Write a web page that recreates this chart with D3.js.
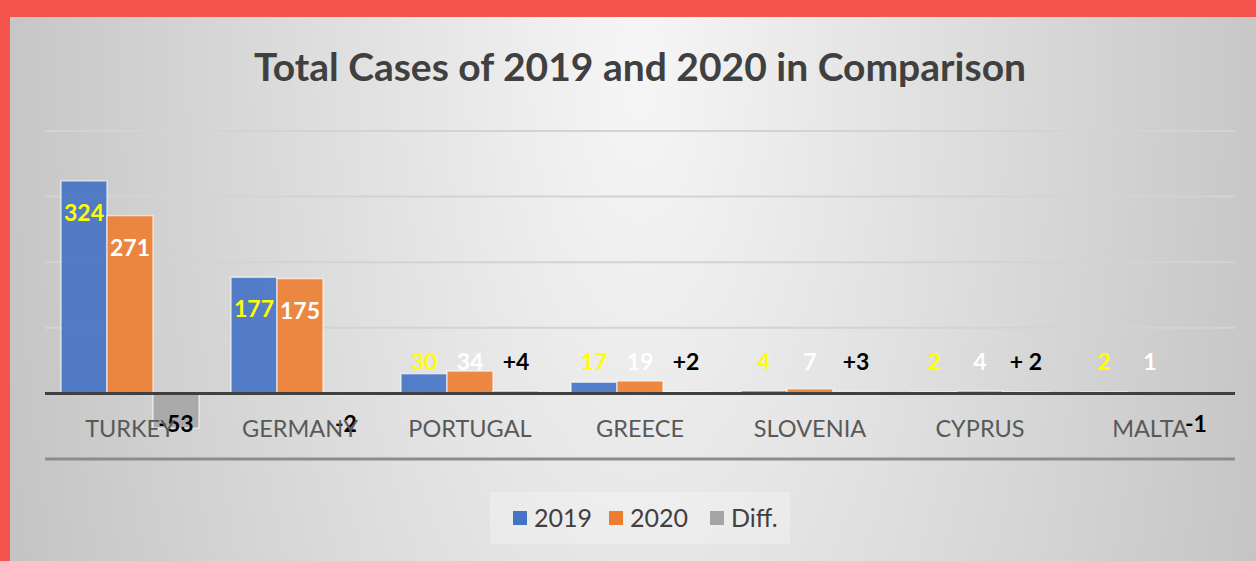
<!DOCTYPE html>
<html>
<head>
<meta charset="utf-8">
<script src="https://cdn.jsdelivr.net/npm/d3@7"></script>
<style>
  body { margin: 0; background: #f4544c; }
  svg { display: block; }
  text { font-family: Lato, "Open Sans", sans-serif; }
</style>
</head>
<body>
<div id="chart"></div>
<script>
var countries = ["TURKEY","GERMANY","PORTUGAL","GREECE","SLOVENIA","CYPRUS","MALTA"]
var cases2019 = [324,177,30,17,4,2,2]
var cases2020 = [271,175,34,19,7,4,1]
var diff = [-53,-2,4,2,3,2,-1]
var diffLabels = ["-53","-2","+4","+2","+3","+ 2","-1"]
var seriesNames = ["2019","2020","Diff."]
var yTicks = [-100,0,100,200,300,400]

var colors = {"2019":"#4472c4","2020":"#ed7d31","Diff.":"#a5a5a5"}
var labelColors = {"2019":"#ffff00","2020":"#ffffff","Diff.":"#000000"}

var W = 1256, H = 561
var svg = d3.select("#chart").append("svg").attr("width",W).attr("height",H)

var defs = svg.append("defs")
var grad = defs.append("radialGradient").attr("id","bg")
    .attr("gradientUnits","userSpaceOnUse")
    .attr("cx",640).attr("cy",60).attr("r",660)
    .attr("gradientTransform","translate(640,60) scale(1,2.4) translate(-640,-60)")
grad.append("stop").attr("offset","0%").attr("stop-color","#f6f6f6")
grad.append("stop").attr("offset","100%").attr("stop-color","#c4c4c4")

// red frame, then the panel
svg.append("rect").attr("width",W).attr("height",H).attr("fill","#f4544c")
svg.append("rect").attr("x",10).attr("y",17).attr("width",W-10).attr("height",H-17).attr("fill","url(#bg)")

svg.append("text").text("Total Cases of 2019 and 2020 in Comparison")
    .attr("x",640).attr("y",81).attr("text-anchor","middle")
    .attr("font-size",39).attr("font-weight","bold").attr("fill","#404040")

var x = d3.scaleBand().domain(countries).range([45,1235])
var xs = d3.scaleBand().domain(seriesNames).range([0,x.bandwidth()]).paddingOuter(16/46)
var y = d3.scaleLinear().domain([-100,400]).range([459,131])

// gridlines
svg.selectAll("line.grid").data(yTicks.filter(function(d){return d>0})).enter().append("line")
    .attr("class","grid")
    .attr("x1",45).attr("x2",1235)
    .attr("y1",function(d){return y(d)}).attr("y2",function(d){return y(d)})
    .attr("stroke","#d3d3d3").attr("stroke-width",2)
svg.append("line").attr("x1",45).attr("x2",1235).attr("y1",y(-100)).attr("y2",y(-100))
    .attr("stroke","#8c8c8c").attr("stroke-width",3)

var rows = countries.map(function(c,i){
    return {country:c, values:[
        {key:"2019", v:cases2019[i], label:String(cases2019[i])},
        {key:"2020", v:cases2020[i], label:String(cases2020[i])},
        {key:"Diff.", v:diff[i], label:diffLabels[i]}
    ]}
})

var groups = svg.selectAll("g.cat").data(rows).enter().append("g")
    .attr("transform",function(d){return "translate("+x(d.country)+",0)"})

groups.selectAll("rect").data(function(d){return d.values}).enter().append("rect")
    .attr("x",function(d){return xs(d.key)})
    .attr("width",xs.bandwidth())
    .attr("y",function(d){return y(Math.max(0,d.v))})
    .attr("height",function(d){return Math.abs(y(d.v)-y(0))})
    .attr("fill",function(d){return colors[d.key]})
    .attr("fill-opacity",0.9)
    .attr("stroke","#ffffff").attr("stroke-opacity",0.6).attr("stroke-width",1.5)

// axis at zero
svg.append("line").attr("x1",45).attr("x2",1235).attr("y1",y(0)).attr("y2",y(0))
    .attr("stroke","#404040").attr("stroke-width",3)

// category labels
svg.selectAll("text.cat").data(countries).enter().append("text")
    .attr("class","cat")
    .text(function(d){return d})
    .attr("x",function(d){return x(d)+x.bandwidth()/2})
    .attr("y",437).attr("text-anchor","middle")
    .attr("font-size",23.5).attr("fill","#595959")

// value labels
groups.selectAll("text.val").data(function(d){return d.values}).enter().append("text")
    .attr("class","val")
    .text(function(d){return d.label})
    .attr("x",function(d){return xs(d.key)+xs.bandwidth()/2})
    .attr("y",function(d){
        if(d.v >= 100) return y(d.v)+32
        if(d.v < 0) return y(0)+31
        return y(0)-31
    })
    .attr("dy","0.35em")
    .attr("text-anchor","middle")
    .attr("font-size",23).attr("font-weight","bold")
    .attr("fill",function(d){return labelColors[d.key]})

// legend
var legend = svg.append("g")
legend.append("rect").attr("x",490).attr("y",492).attr("width",300).attr("height",52)
    .attr("fill","#ffffff").attr("fill-opacity",0.25)
var legendX = [513,609,710]
seriesNames.forEach(function(s,i){
    legend.append("rect").attr("x",legendX[i]).attr("y",511).attr("width",14).attr("height",14)
        .attr("fill",colors[s])
    legend.append("text").text(s).attr("x",legendX[i]+21).attr("y",518).attr("dy","0.35em")
        .attr("font-size",25).attr("fill","#404040")
})
</script>
</body>
</html>
